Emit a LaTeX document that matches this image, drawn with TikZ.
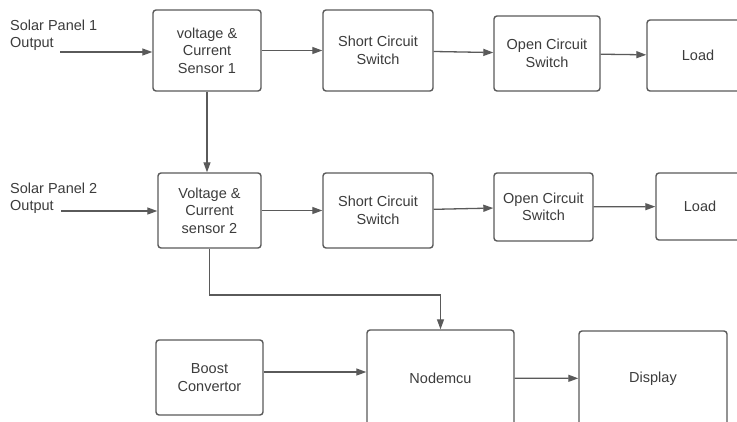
\documentclass[tikz,border=0pt]{standalone}
\usepackage{fontspec}
\setmainfont{Liberation Sans}
\usetikzlibrary{arrows.meta}
\definecolor{linec}{HTML}{5A5A5A}
\definecolor{textc}{HTML}{3C3C3C}
\tikzset{
  blk/.style={draw=linec, line width=1.4pt, rounded corners=3pt, fill=white,
    align=center, text=textc, inner sep=0pt,
    font=\fontsize{14.5}{17.5}\selectfont},
  lbl/.style={align=left, text=textc, inner sep=0pt, anchor=west,
    font=\fontsize{14.5}{17.5}\selectfont},
  arr/.style={draw=linec, line width=1.3pt, -{Triangle[length=10pt,width=7pt]}},
  ln/.style={draw=linec, line width=1.3pt}
}
\begin{document}
\begin{tikzpicture}[x=1pt,y=-1pt]
\useasboundingbox (0,0) rectangle (737,421);
\clip (0,0) rectangle (737,421);
\fill[white] (0,0) rectangle (737,421);

% row 1
\node[blk, minimum width=108pt, minimum height=81pt] (b1) at (207,50.5) {voltage \&\\Current\\Sensor 1};
\node[blk, minimum width=110pt, minimum height=81pt] (sc1) at (378,50.5) {Short Circuit\\Switch};
\node[blk, minimum width=106pt, minimum height=75pt] (oc1) at (547,53.5) {Open Circuit\\Switch};
\node[blk, minimum width=102pt, minimum height=71pt] (l1) at (698,55.5) {Load};

% row 2
\node[blk, minimum width=103pt, minimum height=75pt] (b2) at (209.5,210.5) {Voltage \&\\Current\\sensor 2};
\node[blk, minimum width=110pt, minimum height=75pt] (sc2) at (378,210.5) {Short Circuit\\Switch};
\node[blk, minimum width=99pt, minimum height=68pt] (oc2) at (543.5,207) {Open Circuit\\Switch};
\node[blk, minimum width=88pt, minimum height=67pt] (l2) at (700,206.5) {Load};

% row 3
\node[blk, minimum width=107pt, minimum height=75pt] (boost) at (209.5,377.5) {Boost\\Convertor};
\node[blk, minimum width=147pt, minimum height=96pt] (mcu) at (440.5,378) {Nodemcu};
\node[blk, minimum width=148pt, minimum height=95pt] (disp) at (653,378.5) {Display};

% labels
\node[lbl] (sp1) at (10,35) {Solar Panel 1\\Output};
\node[lbl] (sp2) at (10,198) {Solar Panel 2\\Output};

\coordinate (s1) at (60,52);
\coordinate (s2) at (61,211);
\coordinate (bend) at (300,295);

% connectors
\draw[arr] (s1) -- (s1 -| b1.west);
\draw[arr] (b1) -- (sc1);
\draw[arr] (sc1) -- (oc1);
\draw[arr] (oc1) -- (l1);
\draw[arr] (b1.south) -- (b1.south |- b2.north);

\draw[arr] (s2) -- (s2 -| b2.west);
\draw[arr] (b2) -- (sc2);
\draw[arr] (sc2) -- (oc2);
\draw[arr] (oc2) -- (l2);

\draw[arr] (b2.south) |- (bend) -| (mcu.north);
\draw[arr] ([yshift=5.5pt]boost.east) -- ([yshift=5.5pt]boost.east -| mcu.west);
\draw[arr] (mcu) -- (disp);
\end{tikzpicture}
\end{document}
